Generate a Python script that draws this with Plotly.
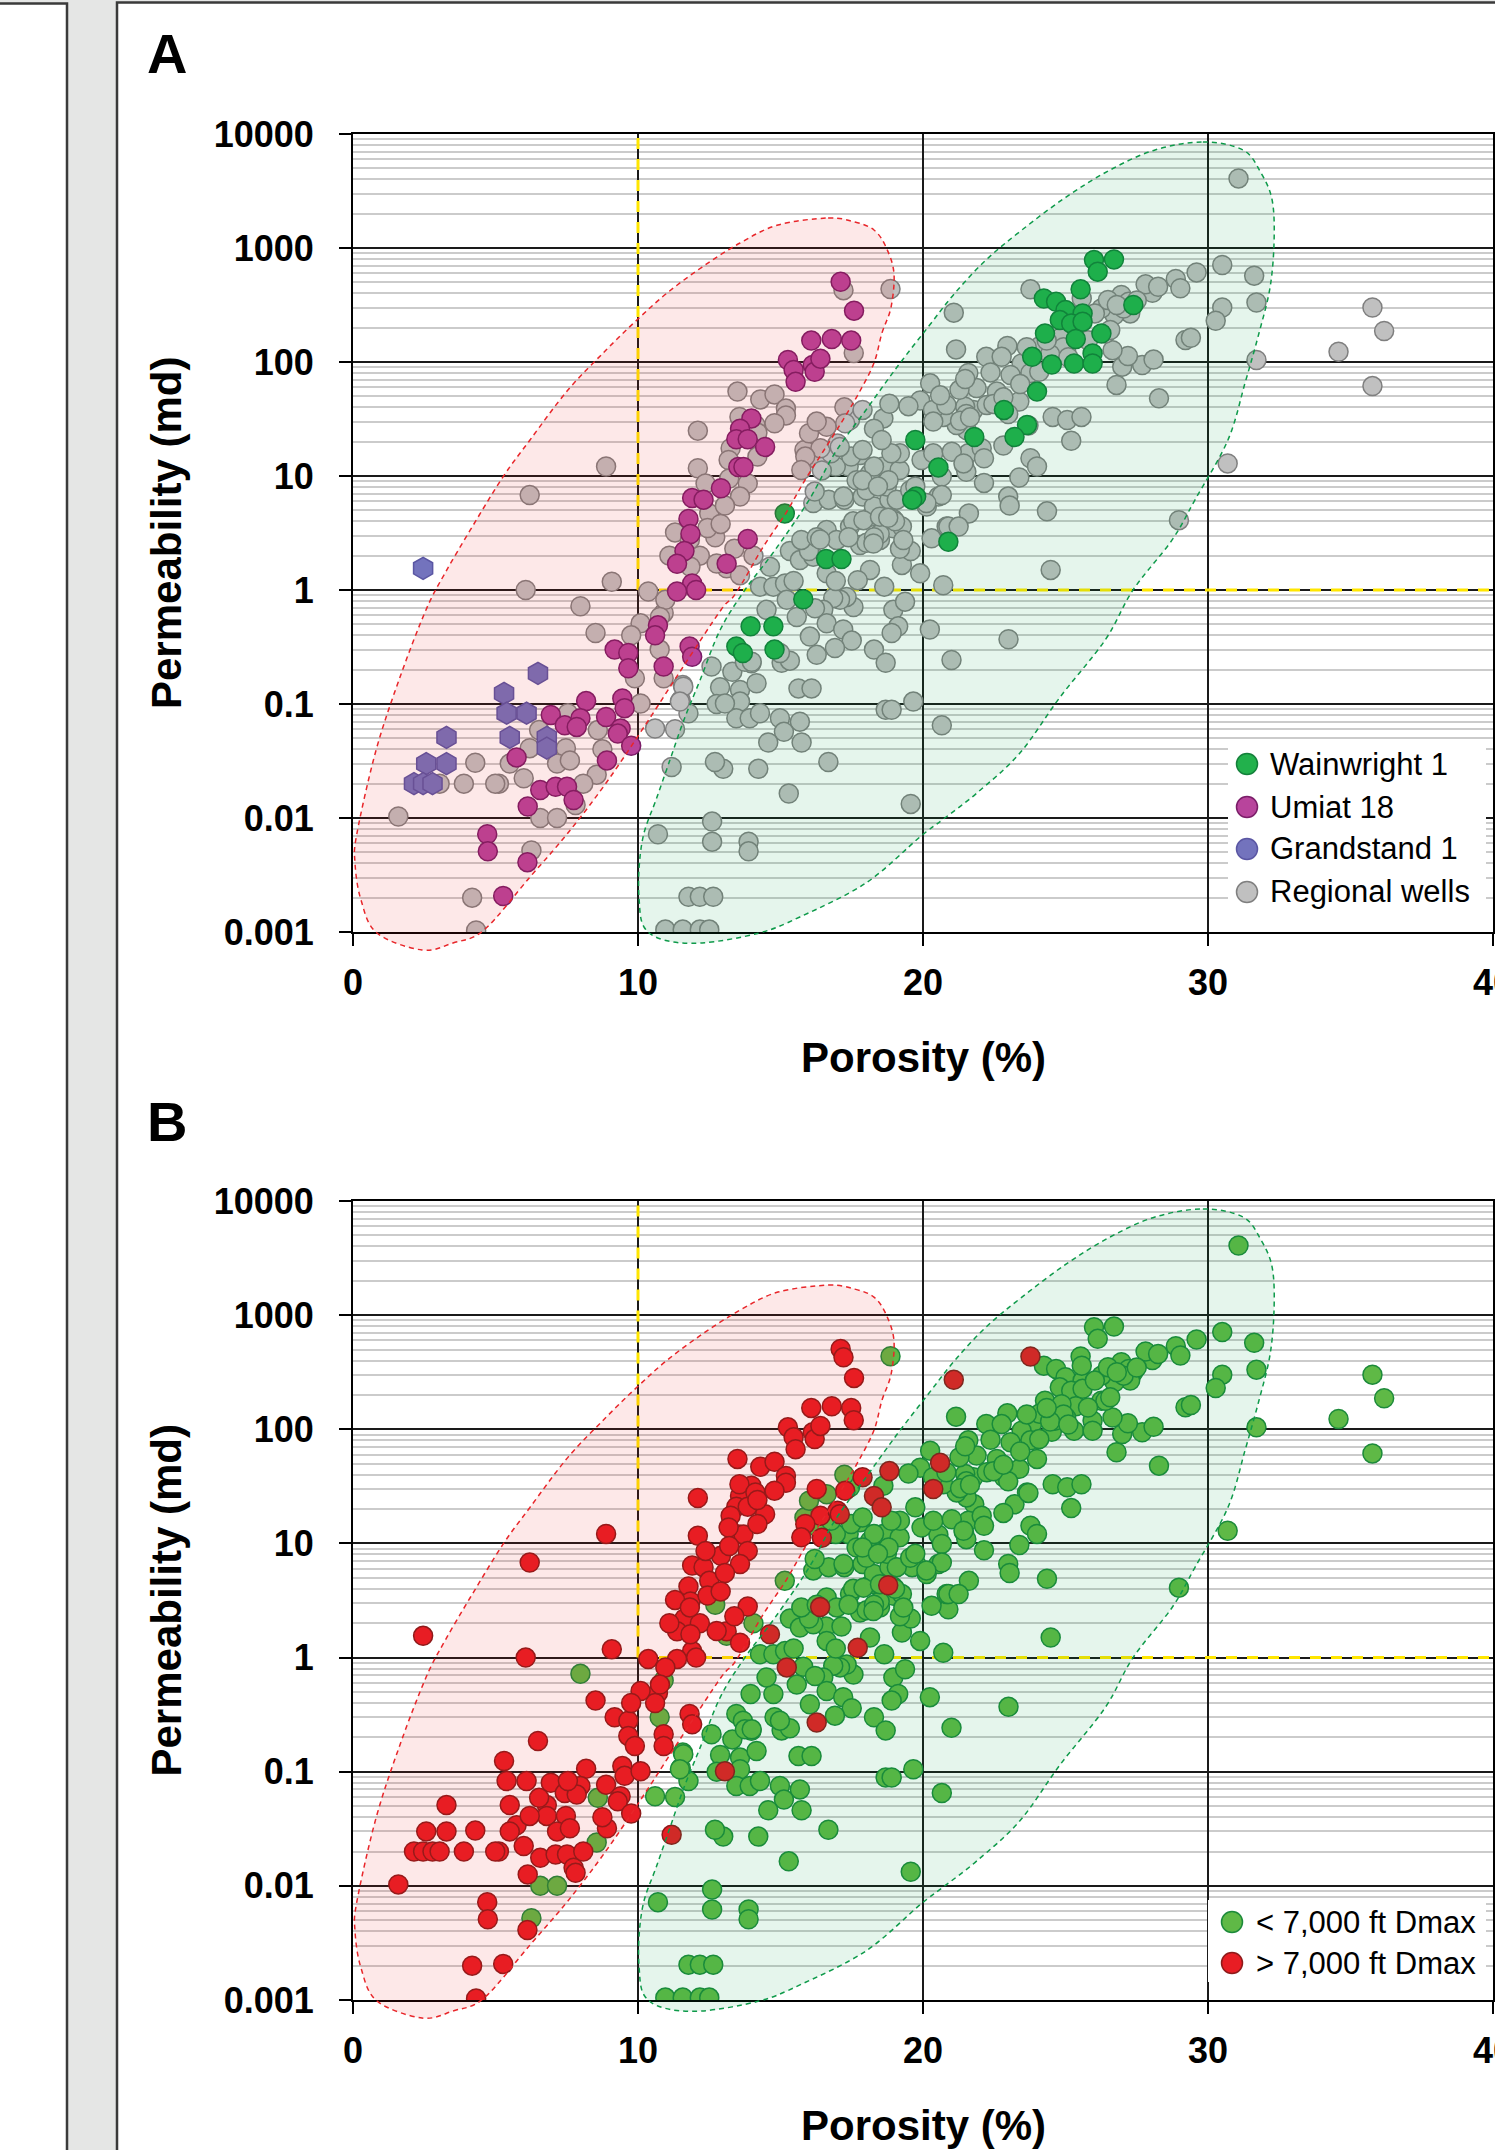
import plotly.graph_objects as go

# ---------------------------------------------------------------------------
# Porosity (%) / permeability (md) measurements
# ---------------------------------------------------------------------------
WAINWRIGHT_1 = [
    (26.0, 783), (26.7, 794), (26.13, 620), (25.53, 434), (24.24, 361), (24.67, 338),
    (25.0, 286), (25.6, 267), (24.8, 233), (25.2, 218), (25.6, 226), (27.38, 316),
    (24.28, 178), (25.36, 159), (26.26, 178), (23.83, 111), (24.52, 95), (25.3, 97),
    (25.95, 119), (25.95, 97), (24.0, 55), (22.84, 38), (23.65, 28), (23.21, 22),
    (19.73, 20.7), (21.8, 22), (20.54, 11.9), (19.76, 6.6), (19.62, 6.2), (20.89, 2.65),
    (16.6, 1.87), (17.14, 1.87), (15.15, 4.7), (15.8, 0.83), (13.95, 0.48), (14.75, 0.48),
    (13.45, 0.32), (13.68, 0.28), (14.79, 0.30),
]

UMIAT_18 = [
    (17.11, 506), (17.58, 282), (16.08, 154), (16.8, 159), (17.48, 154), (15.26, 104),
    (15.46, 85), (15.53, 67), (16.13, 94), (16.2, 82), (16.4, 107), (13.98, 32),
    (13.58, 26), (13.45, 21), (13.85, 21), (14.46, 18), (13.52, 12), (13.7, 12),
    (12.91, 7.8), (11.9, 6.4), (12.3, 6.2), (11.77, 4.2), (11.84, 3.1), (13.85, 2.8),
    (11.63, 2.2), (11.37, 1.7), (13.11, 1.7), (11.9, 1.14), (12.04, 1.0), (11.37, 0.97),
    (10.7, 0.49), (10.6, 0.40), (9.18, 0.30), (9.66, 0.28), (9.66, 0.206), (10.9, 0.213),
    (11.81, 0.32), (11.9, 0.26), (8.18, 0.106), (9.45, 0.112), (9.53, 0.092), (8.88, 0.077),
    (9.39, 0.061), (9.29, 0.055), (9.76, 0.043), (6.94, 0.080), (7.43, 0.065), (7.98, 0.075),
    (7.85, 0.063), (5.74, 0.034), (8.91, 0.032), (6.57, 0.0176), (7.11, 0.0188), (7.51, 0.0188),
    (7.74, 0.0144), (6.13, 0.0126), (4.71, 0.0072), (4.73, 0.0051), (6.12, 0.0041), (5.27, 0.00207),
]

GRANDSTAND_1 = [
    (2.46, 1.55), (6.49, 0.186), (5.3, 0.124), (5.39, 0.083), (6.09, 0.083), (3.28, 0.051),
    (5.5, 0.051), (6.8, 0.051), (6.8, 0.041), (2.57, 0.030), (3.28, 0.030), (2.14, 0.020),
    (2.46, 0.020), (2.79, 0.020),
]

# Regional wells, maximum burial depth greater than 7,000 ft
REGIONAL_DEEP = [
    (17.21, 427), (17.57, 120), (13.49, 55), (14.29, 47), (14.79, 52), (15.19, 39),
    (15.19, 34), (16.27, 30), (13.56, 33), (14.12, 28), (14.19, 24), (12.1, 25),
    (14.79, 29), (13.25, 17.5), (14.19, 14.8), (13.18, 13.8), (12.1, 11.7), (16.4, 17.5),
    (15.87, 14.8), (15.73, 11.3), (17.27, 29), (17.0, 19.3), (8.88, 12.1), (6.2, 6.8),
    (12.37, 8.6), (13.85, 8.6), (13.58, 6.6), (12.5, 4.7), (12.44, 3.5), (11.3, 3.2),
    (11.1, 2.0), (12.17, 2.0), (13.38, 2.3), (13.58, 1.35), (11.84, 1.6), (9.08, 1.18),
    (6.06, 1.0), (10.36, 0.97), (11.82, 2.75), (12.76, 1.71), (13.05, 5.5), (12.9, 3.8),
    (13.2, 9.5), (8.51, 0.42), (10.96, 0.82), (10.09, 0.51), (9.76, 0.40), (9.89, 0.168),
    (10.9, 0.168), (10.09, 0.101), (7.54, 0.083), (6.53, 0.059), (6.2, 0.041), (7.47, 0.041),
    (7.16, 0.030), (8.75, 0.040), (8.08, 0.020), (7.81, 0.013), (5.99, 0.0223), (5.5, 0.030),
    (4.29, 0.0305), (3.89, 0.020), (3.04, 0.020), (5.12, 0.020), (4.99, 0.020), (1.59, 0.0103),
    (4.18, 0.0020), (4.32, 0.00103), (10.77, 0.58), (7.61, 0.032),
    (21.08, 271), (23.77, 434), (18.82, 43), (17.88, 38), (18.28, 26), (18.55, 20.7),
    (17.08, 18), (20.6, 51), (20.36, 30), (16.45, 11.2), (18.78, 4.3), (16.39, 2.77),
    (14.63, 1.6), (17.71, 1.22), (15.22, 0.82), (16.27, 0.27), (13.05, 0.101), (11.18, 0.028),
]

# Regional wells, maximum burial depth less than 7,000 ft
REGIONAL_SHALLOW = [
    (7.98, 0.72), (10.9, 0.63), (10.76, 0.30), (8.59, 0.059), (8.55, 0.024), (6.57, 0.0100),
    (7.16, 0.0100), (6.26, 0.0052), (12.71, 2.9), (14.05, 2.0), (13.11, 1.55), (18.86, 436),
    (12.58, 0.213), (13.31, 0.192), (13.98, 0.228), (12.88, 0.14), (13.58, 0.133), (14.16, 0.152),
    (11.57, 0.147), (11.5, 0.108), (11.77, 0.083), (10.6, 0.061), (11.3, 0.060), (12.76, 0.10),
    (13.58, 0.105), (13.45, 0.075), (13.92, 0.075), (14.28, 0.083), (14.98, 0.075), (15.68, 0.070),
    (15.12, 0.057), (14.57, 0.046), (15.74, 0.046), (16.68, 0.031), (14.22, 0.027), (12.99, 0.027),
    (12.7, 0.031), (15.29, 0.0164), (12.6, 0.0093), (12.6, 0.0062), (10.7, 0.0072), (13.88, 0.0062),
    (13.88, 0.0051), (11.77, 0.00204), (12.17, 0.00204), (12.64, 0.00204), (10.96, 0.00105),
    (11.57, 0.00105), (12.17, 0.00105), (12.5, 0.00105), (18.69, 0.089), (18.9, 0.089),
    (19.57, 0.0133), (20.66, 0.065), (19.66, 0.105), (21.0, 0.243), (20.24, 0.45), (23.0, 0.37),
    (18.28, 0.30), (18.69, 0.23), (18.96, 0.67), (19.37, 0.79), (19.13, 0.48), (18.9, 0.42),
    (17.56, 0.71), (17.32, 0.87), (17.09, 0.82), (16.85, 0.85), (16.5, 0.67), (16.21, 0.69),
    (15.57, 0.58), (14.51, 0.67), (14.28, 1.07), (16.03, 0.39), (16.62, 0.51), (17.2, 0.45),
    (17.5, 0.36), (16.91, 0.31), (15.04, 0.23), (15.33, 0.24), (14.98, 0.28), (13.75, 0.235),
    (13.99, 0.235), (15.63, 0.137), (16.09, 0.137), (11.59, 0.142), (11.47, 0.105),
    (14.75, 1.07), (15.16, 1.14), (15.33, 2.2), (15.68, 1.83), (15.92, 2.56), (16.15, 1.96),
    (16.62, 3.36), (16.97, 2.75), (17.44, 3.6), (17.79, 2.48), (18.14, 1.5), (18.49, 2.75),
    (18.96, 3.48), (19.43, 2.24), (19.9, 1.4), (20.3, 2.84), (20.71, 1.1), (20.83, 3.6),
    (19.26, 1.66), (16.62, 1.4), (18.64, 1.07), (19.57, 2.2), (17.55, 4.0), (18.48, 3.1),
    (18.02, 2.6), (17.39, 2.9), (19.26, 3.6), (18.95, 4.2), (18.17, 4.4), (16.0, 2.2),
    (15.46, 1.2), (16.94, 1.2), (15.73, 2.75), (16.27, 2.9), (18.28, 2.9), (24.48, 1.5),
    (16.15, 5.8), (16.69, 6.2), (17.24, 6.2), (16.2, 7.3), (17.21, 6.6), (17.88, 6.6),
    (18.28, 5.4), (18.82, 6.2), (17.39, 12.1), (16.94, 12.1), (18.61, 12.1), (18.14, 10.5),
    (17.67, 9.2), (18.02, 7.5), (18.73, 8.1), (19.08, 6.2), (19.55, 7.5), (20.13, 5.4),
    (20.54, 6.6), (17.91, 4.1), (18.49, 4.4), (19.02, 4.0), (19.19, 2.3), (19.31, 2.74),
    (18.26, 2.56), (21.59, 15.8), (22.06, 17.5), (22.14, 14.3), (21.44, 12.5), (21.52, 10.9),
    (20.66, 9.9), (20.66, 6.8), (20.12, 5.8), (21.61, 4.7), (22.14, 8.7), (22.99, 6.6),
    (23.04, 5.5), (23.38, 9.7), (23.77, 14.3), (24.0, 12.1), (24.35, 4.9), (20.89, 3.6),
    (21.25, 3.6), (19.73, 8.1), (19.18, 11.3), (18.79, 9.2),
    (20.25, 65), (19.9, 46), (19.49, 41), (18.61, 32), (17.44, 31), (17.79, 15.3),
    (19.19, 15.8), (19.95, 13.8), (20.36, 15.8), (21.01, 16.3), (21.42, 12.9), (21.53, 25.3),
    (21.18, 28), (20.71, 33), (21.77, 38), (22.24, 42), (22.59, 55), (21.88, 59),
    (21.48, 40.6), (17.48, 14.8), (17.88, 16.9), (18.89, 15.8), (18.28, 12.1), (17.88, 9.2),
    (18.42, 8.1), (15.84, 16.9), (16.31, 13.8), (16.77, 15.8), (16.0, 23.7), (16.62, 27),
    (17.24, 40), (22.96, 138), (22.22, 111), (22.76, 111), (23.46, 97), (21.59, 80),
    (22.37, 81), (23.07, 77), (23.77, 80), (24.08, 82), (23.38, 45), (22.99, 35),
    (21.52, 35), (21.28, 57), (20.35, 38), (20.82, 42), (21.48, 71), (21.3, 30.5),
    (21.65, 32.7), (22.47, 42.9), (22.82, 49), (23.41, 64), (23.7, 27.7), (22.82, 18.5),
    (24.55, 33), (25.06, 31), (25.56, 33), (25.2, 20.4), (26.79, 63), (28.28, 48),
    (26.99, 91), (27.69, 94), (28.09, 105), (27.19, 113), (26.65, 127), (30.69, 12.9),
    (28.98, 4.1), (35.77, 61.5),
    (21.16, 129), (25.57, 361), (31.07, 4080), (35.77, 301), (36.18, 187), (34.58, 123),
    (30.5, 710), (31.62, 572), (31.7, 333), (30.5, 301), (30.27, 230), (29.21, 156),
    (29.4, 163), (31.7, 104), (29.6, 611), (28.87, 535), (29.03, 443), (28.05, 405),
    (27.81, 480), (28.25, 457), (26.96, 387), (27.22, 338), (27.27, 267), (26.72, 258),
    (27.04, 295), (26.26, 295), (26.03, 267), (26.4, 178), (26.49, 350), (26.8, 316),
    (27.5, 347), (26.57, 191), (25.79, 155), (24.86, 166), (24.08, 137), (25.02, 127),
    (24.63, 119), (24.93, 135), (24.46, 117), (23.64, 135), (24.34, 154), (25.1, 110),
]

X_TICKS = [0, 10, 20, 30, 40]
Y_TICKS = [0.001, 0.01, 0.1, 1, 10, 100, 1000, 10000]
Y_TICK_LABELS = ["0.001", "0.01", "0.1", "1", "10", "100", "1000", "10000"]
POROSITY_CUTOFF = 10       # %
PERMEABILITY_CUTOFF = 1    # md

# Envelope outlines: (porosity %, log10 permeability)
DEEP_ENVELOPE = [
    (16.67, 3.263), (17.61, 3.228), (18.28, 3.158), (18.70, 3.009), (18.98, 2.781),
    (18.88, 2.482), (18.56, 2.254), (18.28, 1.991), (17.75, 1.728), (17.19, 1.491),
    (16.53, 1.228), (15.86, 0.965), (15.19, 0.675), (14.39, 0.377), (13.44, -0.026),
    (12.91, -0.175), (11.58, -0.675), (10.21, -1.202), (8.88, -1.693), (7.54, -2.132),
    (6.21, -2.518), (4.60, -2.982), (3.51, -3.096), (2.42, -3.158), (0.84, -3.009),
    (0.28, -2.719), (0.07, -2.395), (0.14, -2.132), (0.81, -1.404), (1.65, -0.763),
    (2.56, -0.175), (3.23, 0.149), (4.18, 0.553), (5.26, 0.991), (6.21, 1.316),
    (7.54, 1.754), (8.88, 2.105), (9.96, 2.368), (11.02, 2.605), (12.25, 2.833),
    (13.58, 3.044), (14.91, 3.202),
]
SHALLOW_ENVELOPE = [
    (29.82, 3.930), (31.23, 3.860), (31.86, 3.658), (32.25, 3.421), (32.32, 3.070),
    (32.18, 2.658), (31.79, 2.254), (31.30, 1.816), (30.70, 1.316), (29.54, 0.789),
    (28.74, 0.439), (27.37, 0.0), (26.39, -0.439), (24.81, -0.939), (23.40, -1.430),
    (21.89, -1.781), (20.67, -2.018), (19.89, -2.167), (18.0, -2.570), (15.68, -2.868),
    (14.25, -3.009), (12.25, -3.096), (10.91, -3.070), (10.21, -2.956), (10.04, -2.719),
    (10.04, -2.430), (10.21, -2.132), (10.63, -1.842), (11.12, -1.491), (11.61, -1.140),
    (12.18, -0.789), (12.88, -0.351), (13.75, 0.0), (14.81, 0.351), (16.0, 0.789),
    (16.91, 1.202), (18.0, 1.579), (19.09, 1.956), (20.18, 2.307), (21.12, 2.605),
    (22.21, 2.895), (23.47, 3.158), (25.02, 3.447), (26.56, 3.684), (28.14, 3.860),
]

# ---------------------------------------------------------------------------
# Page geometry
# ---------------------------------------------------------------------------
W, H = 1495, 2150
FONT = "Arial, 'Liberation Sans', Helvetica, sans-serif"
PLOT_X0, PLOT_X1 = 353, 1493
PANEL_Y = {"A": (134, 932), "B": (1201, 2000)}
X_RANGE = (0, 40)
LOGY_RANGE = (-3, 4)


def pxx(px):
    return px / W


def pxy(py):
    return 1 - py / H


def to_page(x, logy, panel):
    top, bottom = PANEL_Y[panel]
    px = PLOT_X0 + (x - X_RANGE[0]) / (X_RANGE[1] - X_RANGE[0]) * (PLOT_X1 - PLOT_X0)
    py = top + (LOGY_RANGE[1] - logy) / (LOGY_RANGE[1] - LOGY_RANGE[0]) * (bottom - top)
    return px, py


def envelope_path(outline, panel):
    """Closed Catmull-Rom spline through the outline, in paper coordinates."""
    pts = [to_page(x, ly, panel) for x, ly in outline]
    pts = [(pxx(px), pxy(py)) for px, py in pts]
    n = len(pts)
    d = "M{:.5f},{:.5f}".format(*pts[0])
    for i in range(n):
        p0, p1, p2, p3 = pts[i - 1], pts[i], pts[(i + 1) % n], pts[(i + 2) % n]
        c1 = (p1[0] + (p2[0] - p0[0]) / 6, p1[1] + (p2[1] - p0[1]) / 6)
        c2 = (p2[0] - (p3[0] - p1[0]) / 6, p2[1] - (p3[1] - p1[1]) / 6)
        d += " C{:.5f},{:.5f} {:.5f},{:.5f} {:.5f},{:.5f}".format(*c1, *c2, *p2)
    return d + " Z"


def xs(pts):
    return [p[0] for p in pts]


def ys(pts):
    return [p[1] for p in pts]


# ---------------------------------------------------------------------------
# Marker styles
# ---------------------------------------------------------------------------
MS = 19
GRAY = dict(color="#c0c0c0", line=dict(color="#7f7f7f", width=1.5), size=MS)
WAIN = dict(color="#22b14c", line=dict(color="#13803a", width=1.5), size=MS)
UMIAT = dict(color="#b8449c", line=dict(color="#7a1d68", width=1.5), size=MS)
GRAND = dict(color="#7373bd", line=dict(color="#5a56a3", width=1.5), size=22, symbol="hexagon")
SHALLOW = dict(color="#5fb946", line=dict(color="#1c8a3a", width=1.5), size=MS)
DEEP = dict(color="#e81d24", line=dict(color="#8e1a1a", width=1.5), size=MS)

fig = go.Figure()

# Panel A: by well
regional_all = REGIONAL_SHALLOW + REGIONAL_DEEP
fig.add_trace(go.Scatter(x=xs(regional_all), y=ys(regional_all), mode="markers",
                         marker=GRAY, name="Regional wells", xaxis="x", yaxis="y"))
fig.add_trace(go.Scatter(x=xs(GRANDSTAND_1), y=ys(GRANDSTAND_1), mode="markers",
                         marker=GRAND, name="Grandstand 1", xaxis="x", yaxis="y"))
fig.add_trace(go.Scatter(x=xs(UMIAT_18), y=ys(UMIAT_18), mode="markers",
                         marker=UMIAT, name="Umiat 18", xaxis="x", yaxis="y"))
fig.add_trace(go.Scatter(x=xs(WAINWRIGHT_1), y=ys(WAINWRIGHT_1), mode="markers",
                         marker=WAIN, name="Wainwright 1", xaxis="x", yaxis="y"))

# Panel B: by maximum burial depth
shallow_all = WAINWRIGHT_1 + REGIONAL_SHALLOW
deep_all = UMIAT_18 + GRANDSTAND_1 + REGIONAL_DEEP
fig.add_trace(go.Scatter(x=xs(shallow_all), y=ys(shallow_all), mode="markers",
                         marker=SHALLOW, name="< 7,000 ft Dmax", xaxis="x2", yaxis="y2"))
fig.add_trace(go.Scatter(x=xs(deep_all), y=ys(deep_all), mode="markers",
                         marker=DEEP, name="> 7,000 ft Dmax", xaxis="x2", yaxis="y2"))

# ---------------------------------------------------------------------------
# Axes
# ---------------------------------------------------------------------------
minor_vals = [m * 10 ** d for d in range(-3, 4) for m in range(2, 10)]
tick_font = dict(family=FONT, size=36, color="#000000", weight="bold")
x_common = dict(range=list(X_RANGE), tickvals=X_TICKS, ticktext=[str(v) for v in X_TICKS],
                showline=True, linecolor="#000000", linewidth=2, mirror=True,
                ticks="outside", ticklen=12, tickwidth=2, tickcolor="#000000",
                tickfont=tick_font, showgrid=True, gridcolor="#1a1a1a", gridwidth=2,
                zeroline=False, domain=[pxx(PLOT_X0), pxx(PLOT_X1)], ticklabelstandoff=6,
                ticklabeloverflow="allow", automargin=False)
y_common = dict(type="log", range=list(LOGY_RANGE), tickvals=Y_TICKS, ticktext=Y_TICK_LABELS,
                showline=True, linecolor="#000000", linewidth=2, mirror=True,
                ticks="outside", ticklen=12, tickwidth=2, tickcolor="#000000",
                tickfont=tick_font, showgrid=True, gridcolor="#1a1a1a", gridwidth=2,
                zeroline=False, ticklabelstandoff=18, automargin=False,
                minor=dict(tickvals=minor_vals, showgrid=True, gridcolor="#cbcbcb",
                           gridwidth=1.7, ticks=""))

fig.update_layout(
    xaxis=dict(x_common, anchor="y"),
    yaxis=dict(y_common, anchor="x", domain=[pxy(PANEL_Y["A"][1]), pxy(PANEL_Y["A"][0])]),
    xaxis2=dict(x_common, anchor="y2"),
    yaxis2=dict(y_common, anchor="x2", domain=[pxy(PANEL_Y["B"][1]), pxy(PANEL_Y["B"][0])]),
)

# ---------------------------------------------------------------------------
# Shapes: page panels, cutoff lines, envelopes, legends
# ---------------------------------------------------------------------------
shapes = [
    dict(type="rect", xref="paper", yref="paper", x0=pxx(117), x1=1.02, y0=-0.02, y1=pxy(2.5),
         fillcolor="#ffffff", line=dict(color="#3a3a3a", width=2.5), layer="below"),
    dict(type="rect", xref="paper", yref="paper", x0=-0.02, x1=pxx(67), y0=-0.02, y1=pxy(3.5),
         fillcolor="#ffffff", line=dict(color="#3a3a3a", width=2.5), layer="below"),
]
for xa, ya in (("x", "y"), ("x2", "y2")):
    shapes.append(dict(type="line", xref=xa, yref=ya, x0=POROSITY_CUTOFF, x1=POROSITY_CUTOFF,
                       y0=PERMEABILITY_CUTOFF, y1=Y_TICKS[-1],
                       line=dict(color="#ffe600", width=3, dash="11px,10px"), layer="between"))
    shapes.append(dict(type="line", xref=xa, yref=ya, x0=POROSITY_CUTOFF, x1=X_RANGE[1],
                       y0=PERMEABILITY_CUTOFF, y1=PERMEABILITY_CUTOFF,
                       line=dict(color="#ffe600", width=3, dash="11px,10px"), layer="between"))

for panel in ("A", "B"):
    shapes.append(dict(type="path", xref="paper", yref="paper",
                       path=envelope_path(DEEP_ENVELOPE, panel),
                       fillcolor="rgba(235,30,30,0.10)",
                       line=dict(color="#e8262a", width=1.5, dash="5px,4px"), layer="above"))
    shapes.append(dict(type="path", xref="paper", yref="paper",
                       path=envelope_path(SHALLOW_ENVELOPE, panel),
                       fillcolor="rgba(0,160,70,0.10)",
                       line=dict(color="#0e9a4a", width=1.5, dash="5px,4px"), layer="above"))

annotations = []


def add_legend(box, items, marker_x, text_x):
    x0, y0, x1, y1 = box
    shapes.append(dict(type="rect", xref="paper", yref="paper", x0=pxx(x0), x1=pxx(x1),
                       y0=pxy(y1), y1=pxy(y0), fillcolor="#ffffff", line=dict(width=0),
                       layer="above"))
    r = 10.5
    for label, yc, style in items:
        shapes.append(dict(type="circle", xref="paper", yref="paper",
                           x0=pxx(marker_x - r), x1=pxx(marker_x + r),
                           y0=pxy(yc + r), y1=pxy(yc - r),
                           fillcolor=style["color"],
                           line=dict(color=style["line"]["color"], width=1.5), layer="above"))
        annotations.append(dict(xref="paper", yref="paper", x=pxx(text_x), y=pxy(yc),
                                xanchor="left", yanchor="middle", showarrow=False, text=label,
                                font=dict(family=FONT, size=31, color="#000000")))


add_legend((1228, 748, 1486, 915),
           [("Wainwright 1", 764, WAIN), ("Umiat 18", 807, UMIAT),
            ("Grandstand 1", 849, GRAND), ("Regional wells", 892, GRAY)],
           1247, 1268)
add_legend((1208, 1900, 1486, 1982),
           [("< 7,000 ft Dmax", 1922, SHALLOW), ("> 7,000 ft Dmax", 1963, DEEP)],
           1232, 1254)

# Titles and panel letters
title_font = dict(family=FONT, size=42, color="#000000", weight="bold")
for panel, letter_y in (("A", 53), ("B", 1121)):
    top, bottom = PANEL_Y[panel]
    annotations.append(dict(xref="paper", yref="paper", x=pxx(145), y=pxy(letter_y),
                            xanchor="left", yanchor="middle", showarrow=False, text=panel,
                            font=dict(family=FONT, size=56, color="#000000", weight="bold")))
    annotations.append(dict(xref="paper", yref="paper", x=pxx(166), y=pxy((top + bottom) / 2),
                            xanchor="center", yanchor="middle", showarrow=False,
                            text="Permeability (md)", textangle=-90, font=title_font))
    annotations.append(dict(xref="paper", yref="paper", x=pxx((PLOT_X0 + PLOT_X1) / 2),
                            y=pxy(bottom + 125), xanchor="center", yanchor="middle",
                            showarrow=False, text="Porosity (%)", font=title_font))

fig.update_layout(
    width=W, height=H, autosize=False,
    margin=dict(l=0, r=0, t=0, b=0, pad=0, autoexpand=False),
    paper_bgcolor="#e5e6e5", plot_bgcolor="#ffffff",
    showlegend=False, shapes=shapes, annotations=annotations,
    font=dict(family=FONT, color="#000000"),
)

# the page itself carries no margin so the figure sits at the window origin
fig.write_html(
    "out.html",
    post_script="document.documentElement.style.margin='0';"
                "document.body.style.margin='0';document.body.style.padding='0';"
                "document.body.style.overflow='hidden';",
)
